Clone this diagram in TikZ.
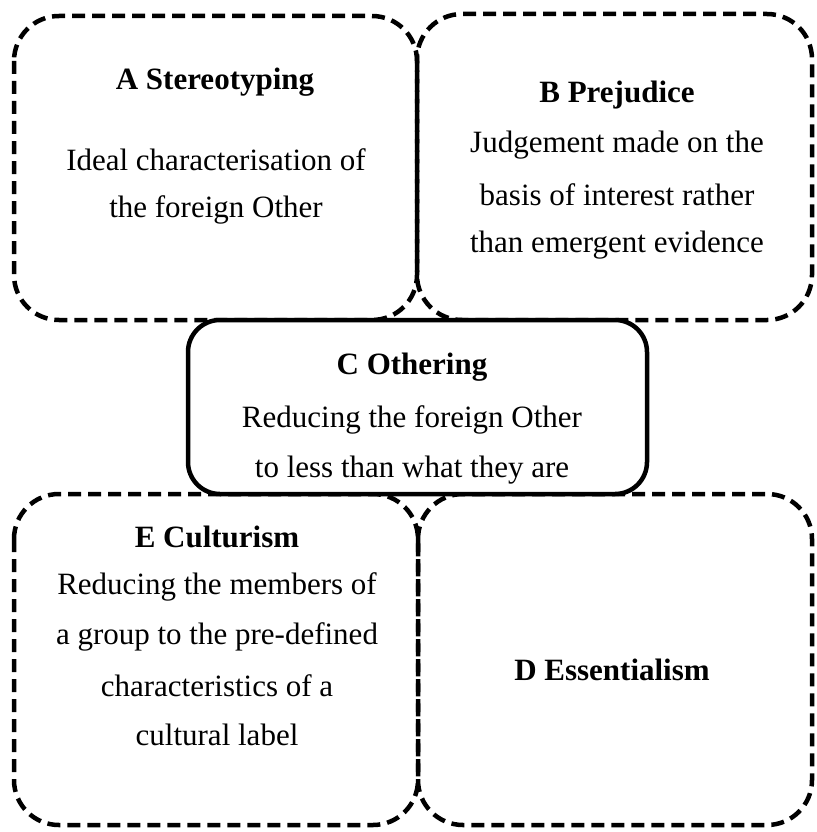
\documentclass[tikz,border=0pt]{standalone}
\usepackage{fontspec}
\setmainfont{Liberation Serif}
\begin{document}
\begin{tikzpicture}[x=1pt,y=-1pt,
  dbox/.style={draw=black,line width=4.5pt,dash pattern=on 13pt off 7pt,rounded corners=45pt},
  sbox/.style={draw=black,line width=4.5pt,rounded corners=32pt,fill=white},
  ttl/.style={font=\fontsize{31}{36}\selectfont\bfseries,anchor=center},
  txt/.style={font=\fontsize{31}{36}\selectfont,anchor=center}]
\useasboundingbox (0,0) rectangle (816,832);
\draw[dbox] (14,16) rectangle (417,320);
\draw[dbox] (417,14) rectangle (812,320);
\draw[dbox] (14,494) rectangle (418,825);
\draw[dbox] (418,494) rectangle (812,825);
\draw[sbox] (188,320) rectangle (647,494);
\node[ttl] (at) at (215,82) {A Stereotyping};
\node[txt] (a1) at (216,160) {Ideal characterisation of};
\node[txt] (a2) at (216,210) {the foreign Other};
\node[ttl] (bt) at (617,95) {B Prejudice};
\node[txt] (b1) at (617,145) {Judgement made on the};
\node[txt] (b2) at (617,195) {basis of interest rather};
\node[txt] (b3) at (617,245) {than emergent evidence};
\node[ttl] (ct) at (412,367) {C Othering};
\node[txt] (c1) at (412,420) {Reducing the foreign Other};
\node[txt] (c2) at (412,470) {to less than what they are};
\node[ttl] (et) at (217,537) {E Culturism};
\node[txt] (e1) at (217,587) {Reducing the members of};
\node[txt] (e2) at (217,637) {a group to the pre-defined};
\node[txt] (e3) at (217,686) {characteristics of a};
\node[txt] (e4) at (217,735) {cultural label};
\node[ttl] (dt) at (612,670) {D Essentialism};
\end{tikzpicture}
\end{document}
